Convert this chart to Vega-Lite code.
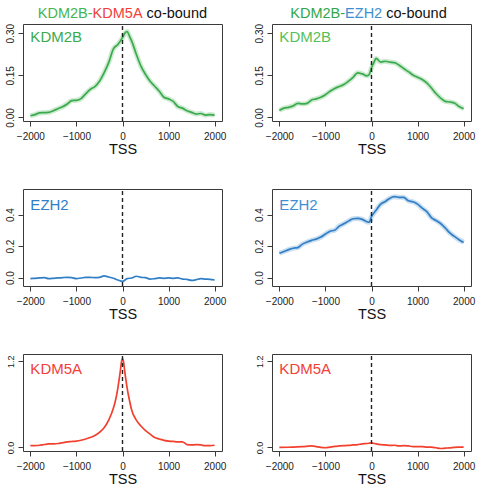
{
  "$schema": "https://vega.github.io/schema/vega-lite/v6.json",
  "background": "white",
  "padding": {"left": 4, "top": 5, "right": 5, "bottom": 5},
  "config": {
    "view": {"stroke": "#3a3a3a", "strokeWidth": 1},
    "axis": {"domain": false, "grid": false, "tickColor": "#3a3a3a", "tickSize": 5, "tickWidth": 1,
      "labelFont": "Liberation Sans", "labelFontSize": 10, "labelColor": "#222", "labelPadding": 3,
      "titleFont": "Liberation Sans", "titleFontSize": 14.5, "titleFontWeight": "normal", "titleColor": "#111", "titlePadding": 1},
    "axisX": {"labelFlush": false, "format": "d", "values": [-2000, -1000, 0, 1000, 2000], "labelPadding": 5},
    "axisY": {"labelAngle": -90, "labelAlign": "center", "labelBaseline": "bottom"},
    "text": {"font": "Liberation Sans"}
  },
  "datasets": {
    "p1": [{"x":-2000,"y":0.006},{"x":-1900,"y":0.01},{"x":-1800,"y":0.016},{"x":-1700,"y":0.017},{"x":-1600,"y":0.018},{"x":-1500,"y":0.024},{"x":-1400,"y":0.031},{"x":-1300,"y":0.038},{"x":-1200,"y":0.048},{"x":-1100,"y":0.06},{"x":-1000,"y":0.061},{"x":-900,"y":0.067},{"x":-800,"y":0.084},{"x":-700,"y":0.1},{"x":-600,"y":0.11},{"x":-500,"y":0.129},{"x":-400,"y":0.159},{"x":-300,"y":0.195},{"x":-200,"y":0.243},{"x":-100,"y":0.26},{"x":0,"y":0.284},{"x":50,"y":0.3},{"x":100,"y":0.306},{"x":150,"y":0.29},{"x":200,"y":0.272},{"x":300,"y":0.225},{"x":400,"y":0.183},{"x":500,"y":0.153},{"x":600,"y":0.129},{"x":700,"y":0.111},{"x":800,"y":0.093},{"x":900,"y":0.072},{"x":1000,"y":0.066},{"x":1100,"y":0.057},{"x":1200,"y":0.039},{"x":1300,"y":0.033},{"x":1400,"y":0.024},{"x":1500,"y":0.018},{"x":1600,"y":0.012},{"x":1700,"y":0.014},{"x":1800,"y":0.008},{"x":1900,"y":0.01},{"x":2000,"y":0.008}],
    "p2": [{"x":-2000,"y":0.025},{"x":-1900,"y":0.033},{"x":-1800,"y":0.036},{"x":-1700,"y":0.041},{"x":-1600,"y":0.05},{"x":-1500,"y":0.048},{"x":-1400,"y":0.05},{"x":-1300,"y":0.062},{"x":-1200,"y":0.066},{"x":-1100,"y":0.072},{"x":-1000,"y":0.081},{"x":-900,"y":0.093},{"x":-800,"y":0.103},{"x":-700,"y":0.11},{"x":-600,"y":0.117},{"x":-500,"y":0.129},{"x":-400,"y":0.143},{"x":-300,"y":0.159},{"x":-200,"y":0.155},{"x":-100,"y":0.148},{"x":-50,"y":0.153},{"x":0,"y":0.177},{"x":50,"y":0.195},{"x":100,"y":0.21},{"x":200,"y":0.197},{"x":300,"y":0.2},{"x":400,"y":0.197},{"x":500,"y":0.195},{"x":600,"y":0.186},{"x":700,"y":0.174},{"x":800,"y":0.163},{"x":900,"y":0.151},{"x":1000,"y":0.143},{"x":1100,"y":0.135},{"x":1200,"y":0.123},{"x":1300,"y":0.105},{"x":1400,"y":0.085},{"x":1500,"y":0.069},{"x":1600,"y":0.057},{"x":1700,"y":0.055},{"x":1800,"y":0.051},{"x":1900,"y":0.039},{"x":2000,"y":0.031}],
    "p3": [{"x":-2000,"y":-0.006},{"x":-1900,"y":-0.004},{"x":-1800,"y":-0.002},{"x":-1700,"y":0},{"x":-1600,"y":-0.006},{"x":-1500,"y":-0.004},{"x":-1400,"y":-0.002},{"x":-1300,"y":0},{"x":-1200,"y":0.002},{"x":-1100,"y":0},{"x":-1000,"y":-0.006},{"x":-900,"y":-0.002},{"x":-800,"y":0.002},{"x":-700,"y":0.002},{"x":-600,"y":0},{"x":-500,"y":0.002},{"x":-400,"y":0.011},{"x":-300,"y":0.004},{"x":-200,"y":-0.004},{"x":-100,"y":-0.015},{"x":0,"y":-0.024},{"x":100,"y":-0.006},{"x":200,"y":-0.002},{"x":300,"y":0.009},{"x":400,"y":0.002},{"x":500,"y":0},{"x":600,"y":-0.009},{"x":700,"y":-0.006},{"x":800,"y":-0.002},{"x":900,"y":-0.004},{"x":1000,"y":-0.002},{"x":1100,"y":-0.004},{"x":1200,"y":-0.002},{"x":1300,"y":-0.009},{"x":1400,"y":-0.011},{"x":1500,"y":-0.017},{"x":1600,"y":-0.013},{"x":1700,"y":-0.006},{"x":1800,"y":-0.009},{"x":1900,"y":-0.011},{"x":2000,"y":-0.015}],
    "p4": [{"x":-2000,"y":0.155},{"x":-1900,"y":0.166},{"x":-1800,"y":0.178},{"x":-1700,"y":0.187},{"x":-1600,"y":0.191},{"x":-1500,"y":0.213},{"x":-1400,"y":0.226},{"x":-1300,"y":0.237},{"x":-1200,"y":0.245},{"x":-1100,"y":0.258},{"x":-1000,"y":0.277},{"x":-900,"y":0.295},{"x":-800,"y":0.301},{"x":-700,"y":0.327},{"x":-600,"y":0.342},{"x":-500,"y":0.359},{"x":-400,"y":0.374},{"x":-300,"y":0.376},{"x":-200,"y":0.37},{"x":-100,"y":0.355},{"x":-50,"y":0.352},{"x":0,"y":0.387},{"x":100,"y":0.428},{"x":200,"y":0.467},{"x":300,"y":0.484},{"x":400,"y":0.505},{"x":500,"y":0.514},{"x":600,"y":0.51},{"x":700,"y":0.51},{"x":800,"y":0.488},{"x":900,"y":0.482},{"x":1000,"y":0.467},{"x":1100,"y":0.441},{"x":1200,"y":0.419},{"x":1300,"y":0.381},{"x":1400,"y":0.363},{"x":1500,"y":0.344},{"x":1600,"y":0.316},{"x":1700,"y":0.284},{"x":1800,"y":0.262},{"x":1900,"y":0.241},{"x":2000,"y":0.224}],
    "p5": [{"x":-2000,"y":0.024},{"x":-1900,"y":0.026},{"x":-1800,"y":0.03},{"x":-1700,"y":0.04},{"x":-1600,"y":0.049},{"x":-1500,"y":0.05},{"x":-1400,"y":0.054},{"x":-1300,"y":0.065},{"x":-1200,"y":0.078},{"x":-1100,"y":0.082},{"x":-1000,"y":0.088},{"x":-900,"y":0.1},{"x":-800,"y":0.117},{"x":-700,"y":0.137},{"x":-600,"y":0.166},{"x":-500,"y":0.21},{"x":-400,"y":0.273},{"x":-300,"y":0.38},{"x":-200,"y":0.54},{"x":-150,"y":0.66},{"x":-100,"y":0.83},{"x":-50,"y":1.05},{"x":-20,"y":1.2},{"x":0,"y":1.24},{"x":20,"y":1.2},{"x":50,"y":1.05},{"x":100,"y":0.83},{"x":150,"y":0.66},{"x":200,"y":0.517},{"x":300,"y":0.38},{"x":400,"y":0.298},{"x":500,"y":0.234},{"x":600,"y":0.185},{"x":700,"y":0.137},{"x":800,"y":0.117},{"x":900,"y":0.098},{"x":1000,"y":0.088},{"x":1100,"y":0.083},{"x":1200,"y":0.078},{"x":1300,"y":0.078},{"x":1400,"y":0.039},{"x":1500,"y":0.034},{"x":1600,"y":0.039},{"x":1700,"y":0.034},{"x":1800,"y":0.024},{"x":1900,"y":0.024},{"x":2000,"y":0.03}],
    "p6": [{"x":-2000,"y":0},{"x":-1800,"y":0.002},{"x":-1700,"y":0.005},{"x":-1500,"y":0.01},{"x":-1300,"y":0.02},{"x":-1200,"y":0.012},{"x":-1100,"y":0},{"x":-1000,"y":-0.005},{"x":-900,"y":0.005},{"x":-800,"y":0.015},{"x":-700,"y":0.02},{"x":-600,"y":0.024},{"x":-500,"y":0.028},{"x":-400,"y":0.034},{"x":-300,"y":0.04},{"x":-200,"y":0.049},{"x":-100,"y":0.054},{"x":0,"y":0.063},{"x":100,"y":0.049},{"x":200,"y":0.039},{"x":300,"y":0.035},{"x":400,"y":0.029},{"x":500,"y":0.03},{"x":600,"y":0.02},{"x":700,"y":0.025},{"x":800,"y":0.02},{"x":900,"y":0.012},{"x":1000,"y":0.01},{"x":1100,"y":0.012},{"x":1200,"y":0.005},{"x":1300,"y":0.003},{"x":1400,"y":-0.005},{"x":1500,"y":-0.015},{"x":1600,"y":-0.01},{"x":1700,"y":-0.006},{"x":1800,"y":0},{"x":1900,"y":0.003},{"x":2000,"y":0.005}],
    "one": [{"k": 0}]
  },
  "columns": 2,
  "spacing": {"row": 68, "column": 50},
  "bounds": "flush",
  "concat": [
    {
      "width": 199, "height": 97,
      "layer": [
        {"data": {"name": "p1"}, "mark": {"type": "line", "color": "#3aab4c", "strokeWidth": 5, "opacity": 0.25, "interpolate": "monotone"},
          "encoding": {"x": {"field": "x", "type": "quantitative", "scale": {"domain": [-2160, 2160], "nice": false, "zero": false}, "axis": {"title": "TSS"}},
            "y": {"field": "y", "type": "quantitative", "scale": {"domain": [-0.0128, 0.3328], "nice": false, "zero": false}, "axis": {"values": [0, 0.15, 0.3], "format": ".2f", "labelOverlap": false, "title": null}}}},
        {"data": {"name": "p1"}, "mark": {"type": "line", "color": "#3aab4c", "strokeWidth": 1.7, "interpolate": "monotone"},
          "encoding": {"x": {"field": "x", "type": "quantitative"}, "y": {"field": "y", "type": "quantitative"}}},
        {"data": {"name": "one"}, "mark": {"type": "rule", "color": "#222", "strokeDash": [4, 3], "strokeWidth": 1.4}, "encoding": {"x": {"datum": 0, "type": "quantitative"}, "y": {"datum": -0.0128, "type": "quantitative"}, "y2": {"datum": 0.3328}}},
        {"data": {"name": "one"}, "mark": {"type": "text", "text": "KDM2B", "color": "#3aab4c", "fontSize": 15, "align": "left", "baseline": "alphabetic"}, "encoding": {"x": {"datum": -2000, "type": "quantitative"}, "y": {"datum": 0.268, "type": "quantitative"}}},
        {"data": {"name": "one"}, "mark": {"type": "text", "text": "KDM2B-", "color": "#44b552", "fontSize": 14.5, "align": "right", "baseline": "alphabetic"}, "encoding": {"x": {"datum": -649, "type": "quantitative"}, "y": {"datum": 0.354, "type": "quantitative"}}},
        {"data": {"name": "one"}, "mark": {"type": "text", "text": "KDM5A", "color": "#f2403a", "fontSize": 14.5, "align": "left", "baseline": "alphabetic"}, "encoding": {"x": {"datum": -649, "type": "quantitative"}, "y": {"datum": 0.354, "type": "quantitative"}}},
        {"data": {"name": "one"}, "mark": {"type": "text", "text": "co-bound", "color": "#111", "fontSize": 14.5, "align": "left", "baseline": "alphabetic"}, "encoding": {"x": {"datum": 523, "type": "quantitative"}, "y": {"datum": 0.354, "type": "quantitative"}}}
      ]
    },
    {
      "width": 199, "height": 97,
      "layer": [
        {"data": {"name": "p2"}, "mark": {"type": "line", "color": "#3aab4c", "strokeWidth": 5, "opacity": 0.25, "interpolate": "monotone"},
          "encoding": {"x": {"field": "x", "type": "quantitative", "scale": {"domain": [-2160, 2160], "nice": false, "zero": false}, "axis": {"title": "TSS"}},
            "y": {"field": "y", "type": "quantitative", "scale": {"domain": [-0.0128, 0.3328], "nice": false, "zero": false}, "axis": {"values": [0, 0.15, 0.3], "format": ".2f", "labelOverlap": false, "title": null}}}},
        {"data": {"name": "p2"}, "mark": {"type": "line", "color": "#3aab4c", "strokeWidth": 1.7, "interpolate": "monotone"},
          "encoding": {"x": {"field": "x", "type": "quantitative"}, "y": {"field": "y", "type": "quantitative"}}},
        {"data": {"name": "one"}, "mark": {"type": "rule", "color": "#222", "strokeDash": [4, 3], "strokeWidth": 1.4}, "encoding": {"x": {"datum": 0, "type": "quantitative"}, "y": {"datum": -0.0128, "type": "quantitative"}, "y2": {"datum": 0.3328}}},
        {"data": {"name": "one"}, "mark": {"type": "text", "text": "KDM2B", "color": "#55bf5a", "fontSize": 15, "align": "left", "baseline": "alphabetic"}, "encoding": {"x": {"datum": -2000, "type": "quantitative"}, "y": {"datum": 0.268, "type": "quantitative"}}},
        {"data": {"name": "one"}, "mark": {"type": "text", "text": "KDM2B-", "color": "#2fa84a", "fontSize": 14.5, "align": "right", "baseline": "alphabetic"}, "encoding": {"x": {"datum": -573, "type": "quantitative"}, "y": {"datum": 0.354, "type": "quantitative"}}},
        {"data": {"name": "one"}, "mark": {"type": "text", "text": "EZH2", "color": "#3f8fd2", "fontSize": 14.5, "align": "left", "baseline": "alphabetic"}, "encoding": {"x": {"datum": -573, "type": "quantitative"}, "y": {"datum": 0.354, "type": "quantitative"}}},
        {"data": {"name": "one"}, "mark": {"type": "text", "text": "co-bound", "color": "#111", "fontSize": 14.5, "align": "left", "baseline": "alphabetic"}, "encoding": {"x": {"datum": 320, "type": "quantitative"}, "y": {"datum": 0.354, "type": "quantitative"}}}
      ]
    },
    {
      "width": 199, "height": 97,
      "layer": [
        {"data": {"name": "p3"}, "mark": {"type": "line", "color": "#2f7ec6", "strokeWidth": 1.7, "interpolate": "monotone"},
          "encoding": {"x": {"field": "x", "type": "quantitative", "scale": {"domain": [-2160, 2160], "nice": false, "zero": false}, "axis": {"title": "TSS"}},
            "y": {"field": "y", "type": "quantitative", "scale": {"domain": [-0.053, 0.563], "nice": false, "zero": false}, "axis": {"values": [0, 0.1, 0.2, 0.3, 0.4, 0.5], "labelExpr": "abs(datum.value) < 0.001 || abs(datum.value - 0.2) < 0.001 || abs(datum.value - 0.4) < 0.001 ? format(datum.value, '.1f') : ''", "labelOverlap": false, "title": null}}}},
        {"data": {"name": "one"}, "mark": {"type": "rule", "color": "#222", "strokeDash": [4, 3], "strokeWidth": 1.4}, "encoding": {"x": {"datum": 0, "type": "quantitative"}, "y": {"datum": -0.053, "type": "quantitative"}, "y2": {"datum": 0.563}}},
        {"data": {"name": "one"}, "mark": {"type": "text", "text": "EZH2", "color": "#2f7ec6", "fontSize": 15, "align": "left", "baseline": "alphabetic"}, "encoding": {"x": {"datum": -2000, "type": "quantitative"}, "y": {"datum": 0.43, "type": "quantitative"}}}
      ]
    },
    {
      "width": 199, "height": 97,
      "layer": [
        {"data": {"name": "p4"}, "mark": {"type": "line", "color": "#2f7ec6", "strokeWidth": 5, "opacity": 0.25, "interpolate": "monotone"},
          "encoding": {"x": {"field": "x", "type": "quantitative", "scale": {"domain": [-2160, 2160], "nice": false, "zero": false}, "axis": {"title": "TSS"}},
            "y": {"field": "y", "type": "quantitative", "scale": {"domain": [-0.053, 0.563], "nice": false, "zero": false}, "axis": {"values": [0, 0.1, 0.2, 0.3, 0.4, 0.5], "labelExpr": "abs(datum.value) < 0.001 || abs(datum.value - 0.2) < 0.001 || abs(datum.value - 0.4) < 0.001 ? format(datum.value, '.1f') : ''", "labelOverlap": false, "title": null}}}},
        {"data": {"name": "p4"}, "mark": {"type": "line", "color": "#2f7ec6", "strokeWidth": 1.7, "interpolate": "monotone"},
          "encoding": {"x": {"field": "x", "type": "quantitative"}, "y": {"field": "y", "type": "quantitative"}}},
        {"data": {"name": "one"}, "mark": {"type": "rule", "color": "#222", "strokeDash": [4, 3], "strokeWidth": 1.4}, "encoding": {"x": {"datum": 0, "type": "quantitative"}, "y": {"datum": -0.053, "type": "quantitative"}, "y2": {"datum": 0.563}}},
        {"data": {"name": "one"}, "mark": {"type": "text", "text": "EZH2", "color": "#3f8fd2", "fontSize": 15, "align": "left", "baseline": "alphabetic"}, "encoding": {"x": {"datum": -2000, "type": "quantitative"}, "y": {"datum": 0.43, "type": "quantitative"}}}
      ]
    },
    {
      "width": 199, "height": 97,
      "layer": [
        {"data": {"name": "p5"}, "mark": {"type": "line", "color": "#f2402e", "strokeWidth": 1.7, "interpolate": "monotone"},
          "encoding": {"x": {"field": "x", "type": "quantitative", "scale": {"domain": [-2160, 2160], "nice": false, "zero": false}, "axis": {"title": "TSS"}},
            "y": {"field": "y", "type": "quantitative", "scale": {"domain": [-0.05, 1.3], "nice": false, "zero": false}, "axis": {"values": [0, 0.2, 0.4, 0.6, 0.8, 1.0, 1.2], "labelExpr": "abs(datum.value) < 0.001 || abs(datum.value - 0.4) < 0.001 || abs(datum.value - 0.8) < 0.001 || abs(datum.value - 1.2) < 0.001 ? format(datum.value, '.1f') : ''", "labelFontSize": 9, "labelOverlap": false, "title": null}}}},
        {"data": {"name": "one"}, "mark": {"type": "rule", "color": "#222", "strokeDash": [4, 3], "strokeWidth": 1.4}, "encoding": {"x": {"datum": 0, "type": "quantitative"}, "y": {"datum": -0.05, "type": "quantitative"}, "y2": {"datum": 1.3}}},
        {"data": {"name": "one"}, "mark": {"type": "text", "text": "KDM5A", "color": "#f2403a", "fontSize": 15, "align": "left", "baseline": "alphabetic"}, "encoding": {"x": {"datum": -2000, "type": "quantitative"}, "y": {"datum": 1.02, "type": "quantitative"}}}
      ]
    },
    {
      "width": 199, "height": 97,
      "layer": [
        {"data": {"name": "p6"}, "mark": {"type": "line", "color": "#f2402e", "strokeWidth": 1.7, "interpolate": "monotone"},
          "encoding": {"x": {"field": "x", "type": "quantitative", "scale": {"domain": [-2160, 2160], "nice": false, "zero": false}, "axis": {"title": "TSS"}},
            "y": {"field": "y", "type": "quantitative", "scale": {"domain": [-0.05, 1.3], "nice": false, "zero": false}, "axis": {"values": [0, 0.2, 0.4, 0.6, 0.8, 1.0, 1.2], "labelExpr": "abs(datum.value) < 0.001 || abs(datum.value - 0.4) < 0.001 || abs(datum.value - 0.8) < 0.001 || abs(datum.value - 1.2) < 0.001 ? format(datum.value, '.1f') : ''", "labelFontSize": 9, "labelOverlap": false, "title": null}}}},
        {"data": {"name": "one"}, "mark": {"type": "rule", "color": "#222", "strokeDash": [4, 3], "strokeWidth": 1.4}, "encoding": {"x": {"datum": 0, "type": "quantitative"}, "y": {"datum": -0.05, "type": "quantitative"}, "y2": {"datum": 1.3}}},
        {"data": {"name": "one"}, "mark": {"type": "text", "text": "KDM5A", "color": "#f2403a", "fontSize": 15, "align": "left", "baseline": "alphabetic"}, "encoding": {"x": {"datum": -2000, "type": "quantitative"}, "y": {"datum": 1.02, "type": "quantitative"}}}
      ]
    }
  ]
}
